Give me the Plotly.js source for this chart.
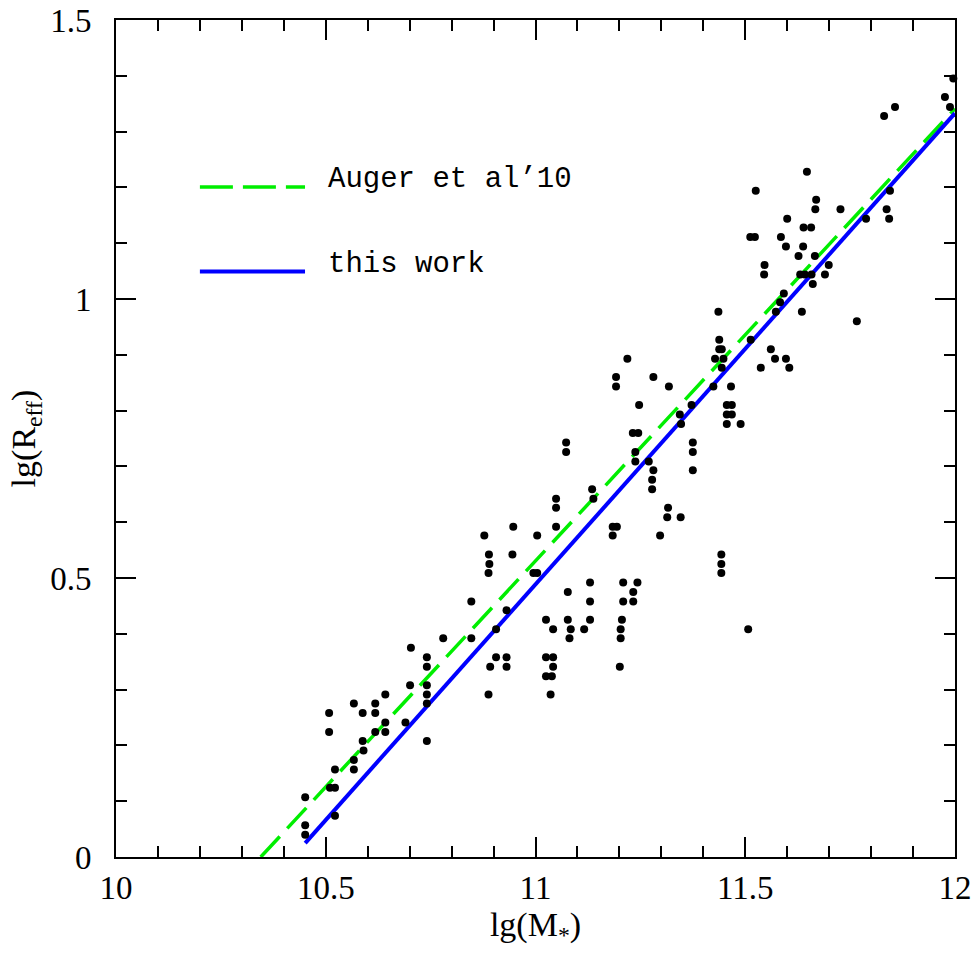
<!DOCTYPE html>
<html>
<head>
<meta charset="utf-8">
<script src="https://cdn.plot.ly/plotly-3.0.1.min.js"></script>
<style>html,body{margin:0;padding:0;background:#fff;}#chart{width:979px;height:956px;}</style>
</head>
<body>
<div id="chart"></div>
<script>
// Galaxies: lg(M*) and lg(Reff)
const lgMass = [
10.878,10.947,11.004,10.889,10.890,10.888,10.945,10.995,11.004,10.847,
10.931,11.025,10.703,10.780,10.847,10.906,10.741,10.741,10.906,10.931,
10.892,10.931,11.025,11.025,10.888,11.036,10.701,10.741,10.741,10.741,
10.741,10.690,10.642,10.618,10.618,10.642,10.642,10.618,10.567,10.588,
10.588,10.590,10.567,10.567,10.508,10.508,10.522,10.510,10.522,10.522,
10.451,10.451,10.451,11.042,11.042,11.042,11.039,11.049,11.049,11.049,
11.073,11.073,11.077,11.077,11.084,11.081,11.116,11.130,11.130,11.130,
11.135,11.138,11.184,11.194,11.184,11.192,11.192,11.203,11.206,11.203,
11.201,11.209,11.209,11.243,11.233,11.233,11.219,11.232,11.245,11.238,
11.238,11.247,11.270,11.281,11.278,11.278,11.281,11.297,11.316,11.314,
11.346,11.318,11.344,11.347,11.375,11.375,11.375,11.424,11.428,11.438,
11.438,11.448,11.444,11.456,11.456,11.456,11.443,11.443,11.443,11.996,
11.976,11.988,11.831,11.857,11.647,11.525,11.669,11.667,11.727,11.600,
11.845,11.837,11.843,11.788,11.512,11.523,11.585,11.639,11.657,11.597,
11.638,11.627,11.666,11.699,11.690,11.546,11.545,11.631,11.642,11.658,
11.661,11.592,11.583,11.573,11.635,11.436,11.766,11.513,11.444,11.561,
11.571,11.597,11.605,11.537,11.466,11.468,11.468,11.489,11.372,11.507
];
const lgReff = [
0.576,0.592,0.576,0.542,0.525,0.509,0.542,0.509,0.509,0.458,
0.442,0.425,0.375,0.392,0.392,0.408,0.358,0.341,0.358,0.358,
0.341,0.341,0.358,0.324,0.291,0.291,0.308,0.308,0.291,0.275,
0.208,0.241,0.291,0.275,0.258,0.241,0.224,0.224,0.275,0.258,
0.208,0.191,0.174,0.157,0.258,0.224,0.157,0.124,0.124,0.074,
0.107,0.057,0.040,0.408,0.358,0.341,0.324,0.642,0.626,0.592,
0.743,0.726,0.475,0.425,0.408,0.392,0.408,0.492,0.458,0.425,
0.659,0.642,0.592,0.592,0.576,0.860,0.843,0.408,0.425,0.392,
0.341,0.492,0.458,0.492,0.475,0.458,0.893,0.760,0.760,0.726,
0.709,0.810,0.709,0.693,0.676,0.659,0.860,0.576,0.626,0.609,
0.609,0.843,0.793,0.776,0.743,0.726,0.693,0.843,0.893,0.927,
0.910,0.893,0.877,0.810,0.793,0.776,0.542,0.525,0.509,1.395,
1.362,1.344,1.328,1.344,1.228,1.194,1.178,1.161,1.161,1.144,
1.194,1.161,1.144,1.144,1.111,1.111,1.111,1.128,1.128,1.094,
1.094,1.077,1.077,1.061,1.044,1.061,1.044,1.044,1.044,1.044,
1.027,1.010,0.994,0.977,0.977,0.977,0.960,0.927,0.910,0.910,
0.893,0.893,0.877,0.877,0.843,0.810,0.793,0.776,0.810,0.408
];
// Relations
const augerX = [10.345, 12.0];
const augerY = [0.0, 1.341];
const fitX = [10.451, 12.0];
const fitY = [0.025, 1.333];
// Labels
const legendLabels = ["Auger et al\u201910", "this work"];
const xTickVals = [10, 10.5, 11, 11.5, 12];
const xTickText = ["10", "10.5", "11", "11.5", "12"];
const yTickVals = [0, 0.5, 1, 1.5];
const yTickText = ["0", "0.5", "1", "1.5"];

const serif = "Liberation Serif, Times New Roman, serif";
const mono = "Liberation Mono, Courier New, monospace";

const traces = [
  {x: augerX, y: augerY, mode: "lines", type: "scatter", name: legendLabels[0],
   line: {color: "#00ee00", width: 3.5, dash: "28px,11px"}, showlegend: false},
  {x: fitX, y: fitY, mode: "lines", type: "scatter", name: legendLabels[1],
   line: {color: "#0000ff", width: 4}, showlegend: false},
  {x: lgMass, y: lgReff, mode: "markers", type: "scatter", name: "galaxies",
   marker: {color: "#000", size: 8}, cliponaxis: false, showlegend: false}
];

const axisCommon = {
  showgrid: false, zeroline: false, showline: true, linecolor: "#000", linewidth: 2,
  mirror: "allticks", ticks: "inside", ticklen: 20, tickwidth: 2, tickcolor: "#000",
  tickfont: {family: serif, size: 33, color: "#000"},
  minor: {dtick: 0.1, ticks: "inside", ticklen: 11, tickwidth: 2, tickcolor: "#000", showgrid: false}
};

const layout = {
  width: 979, height: 956,
  margin: {l: 116, r: 24, t: 20, b: 99},
  paper_bgcolor: "#fff", plot_bgcolor: "#fff",
  xaxis: Object.assign({}, axisCommon, {
    range: [10, 12], tickmode: "array", tickvals: xTickVals, ticktext: xTickText,
    ticklabelstandoff: 0,
    title: {text: "lg(M<sub>*</sub>)", font: {family: serif, size: 34, color: "#000"}, standoff: 4}
  }),
  yaxis: Object.assign({}, axisCommon, {
    range: [0, 1.5], tickmode: "array", tickvals: yTickVals, ticktext: yTickText,
    ticklabelstandoff: 16,
    title: {text: "lg(R<sub>eff</sub>)", font: {family: serif, size: 34, color: "#000"}, standoff: 4}
  }),
  shapes: [
    {type: "line", xref: "paper", yref: "paper", x0: 0.100, x1: 0.2253, y0: 0.8006, y1: 0.8006,
     line: {color: "#00ee00", width: 3.5, dash: "33px,10px"}},
    {type: "line", xref: "paper", yref: "paper", x0: 0.100, x1: 0.2253, y0: 0.6995, y1: 0.6995,
     line: {color: "#0000ff", width: 4}}
  ],
  annotations: [
    {xref: "paper", yref: "paper", x: 0.2500, y: 0.8095, xanchor: "left", yanchor: "middle",
     text: legendLabels[0], showarrow: false, font: {family: mono, size: 29, color: "#000"}},
    {xref: "paper", yref: "paper", x: 0.2500, y: 0.708, xanchor: "left", yanchor: "middle",
     text: legendLabels[1], showarrow: false, font: {family: mono, size: 29, color: "#000"}}
  ],
  showlegend: false
};

Plotly.newPlot("chart", traces, layout, {staticPlot: true, displayModeBar: false});
</script>
</body>
</html>
